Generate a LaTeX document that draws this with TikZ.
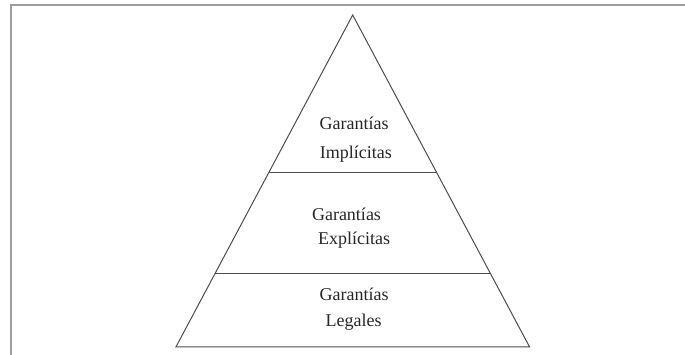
\documentclass[tikz,border=0pt]{standalone}
\usepackage{fontspec}
\setmainfont{Liberation Serif}
\usetikzlibrary{calc}
\begin{document}
\begin{tikzpicture}[x=1pt,y=-1pt,
  framestyle/.style={draw=black!38,line width=1.6pt},
  pyrline/.style={draw=black!70,line width=1pt,line join=miter},
  lbl/.style={anchor=base,inner sep=0pt,font=\fontsize{18}{20}\selectfont,text=black!85}]
\useasboundingbox (0,0) rectangle (685,354);
% frame
\coordinate (ftl) at (11,5);
\coordinate (ftr) at (686,5);
\coordinate (fbl) at (11,355);
\draw[framestyle] (ftr) -- (ftl) -- (fbl);
% pyramid
\coordinate (apex) at (352.7,15);
\coordinate (bl) at (176,346.8);
\coordinate (br) at (529.5,346.8);
\draw[pyrline] (apex) -- (bl) -- (br) -- cycle;
\coordinate (l1a) at ($(apex)!0.4753!(bl)$);
\coordinate (l1b) at ($(apex)!0.4753!(br)$);
\coordinate (l2a) at ($(apex)!0.7790!(bl)$);
\coordinate (l2b) at ($(apex)!0.7790!(br)$);
\draw[pyrline] (l1a) -- (l1b);
\draw[pyrline] (l2a) -- (l2b);
% labels
\node[lbl] (g1) at (354.2,129) {Garantías};
\node[lbl] (i1) at (355.8,158) {Implícitas};
\node[lbl] (g2) at (346.5,220.7) {Garantías};
\node[lbl] (e2) at (354,244) {Explícitas};
\node[lbl] (g3) at (354.2,300) {Garantías};
\node[lbl] (l3) at (353.7,326.7) {Legales};
\end{tikzpicture}
\end{document}
